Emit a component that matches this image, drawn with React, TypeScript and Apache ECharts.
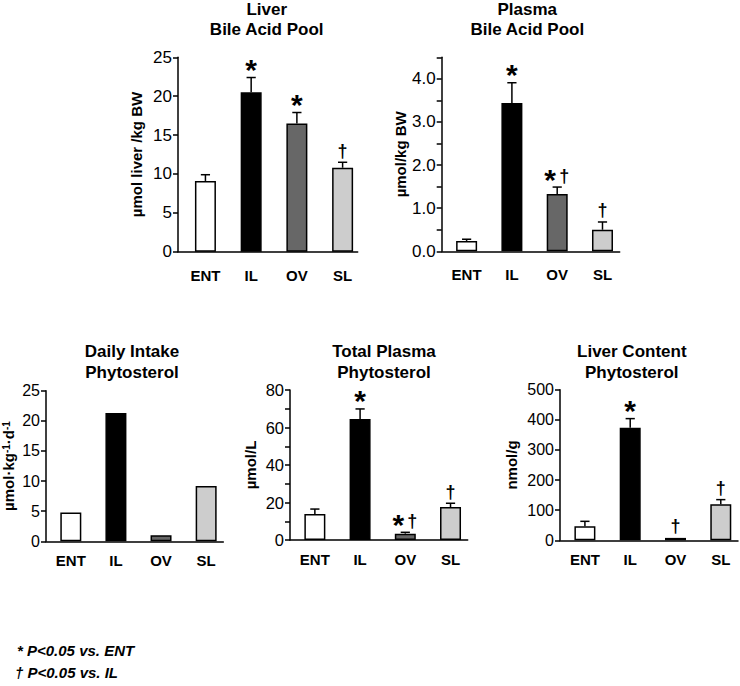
import React, { useEffect, useRef } from 'react';
import * as echarts from 'echarts';

const categories = ['ENT', 'IL', 'OV', 'SL'];
const barColors = ['#ffffff', '#000000', '#676767', '#cdcdcd'];

const liverBileMean = [9.1, 20.5, 16.5, 10.8];
const liverBileErr = [0.8, 1.9, 1.4, 0.7];
const liverBileMarks = ['', '*', '*', '†'];

const plasmaBileMean = [0.24, 3.44, 1.33, 0.5];
const plasmaBileErr = [0.04, 0.47, 0.16, 0.18];
const plasmaBileMarks = ['', '*', '*†', '†'];

const intakeMean = [4.8, 21.3, 1.0, 9.2];
const intakeErr = [0, 0, 0, 0];
const intakeMarks = ['', '', '', ''];

const plasmaPhytoMean = [13.9, 64.5, 3.4, 17.6];
const plasmaPhytoErr = [2.6, 5.4, 0.7, 2.0];
const plasmaPhytoMarks = ['', '*', '*†', '†'];

const liverPhytoMean = [47, 374, 8, 120];
const liverPhytoErr = [16, 30, 0, 15];
const liverPhytoMarks = ['', '*', '†', '†'];

const footnotes = ['* P<0.05 vs. ENT', '† P<0.05 vs. IL'];

const FONT = '"Liberation Sans", Arial, Helvetica, sans-serif';

const panels = [
  {
    titles: ['Liver', 'Bile Acid Pool'], titleX: 266.7, titleY: [9, 29],
    grid: { left: 178, top: 57.3, width: 179.7, height: 194.4 },
    xMin: -0.6, yMax: 25, yInterval: 5, labelStep: 5, decimals: 0, labelSize: 17,
    yName: 'µmol liver /kg BW', nameGap: 34, xLabelMargin: 16,
    mean: liverBileMean, err: liverBileErr, marks: liverBileMarks,
  },
  {
    titles: ['Plasma', 'Bile Acid Pool'], titleX: 527.3, titleY: [9, 29],
    grid: { left: 441.7, top: 57.3, width: 178, height: 194 },
    xMin: -0.55, yMax: 4.5, yInterval: 0.5, labelStep: 1, decimals: 1, labelSize: 17,
    yName: 'µmol/kg BW', nameGap: 29, xLabelMargin: 16,
    mean: plasmaBileMean, err: plasmaBileErr, marks: plasmaBileMarks,
  },
  {
    titles: ['Daily Intake', 'Phytosterol'], titleX: 132, titleY: [351, 372.7],
    grid: { left: 46, top: 390.7, width: 177.3, height: 150.6 },
    xMin: -0.55, yMax: 25, yInterval: 5, labelStep: 5, decimals: 0, labelSize: 16,
    yName: '{a|µmol·kg}{s|-1}{a|·d}{s|-1}', nameGap: 30, xLabelMargin: 12,
    mean: intakeMean, err: intakeErr, marks: intakeMarks,
  },
  {
    titles: ['Total Plasma', 'Phytosterol'], titleX: 384, titleY: [351, 372.7],
    grid: { left: 290, top: 390, width: 177.7, height: 150 },
    xMin: -0.55, yMax: 80, yInterval: 10, labelStep: 20, decimals: 0, labelSize: 16.5,
    yName: 'µmol/L', nameGap: 32, xLabelMargin: 12,
    mean: plasmaPhytoMean, err: plasmaPhytoErr, marks: plasmaPhytoMarks,
  },
  {
    titles: ['Liver Content', 'Phytosterol'], titleX: 631.8, titleY: [351, 372.7],
    grid: { left: 560, top: 389.7, width: 178, height: 150.6 },
    xMin: -0.55, yMax: 500, yInterval: 100, labelStep: 100, decimals: 0, labelSize: 16,
    yName: 'nmol/g', nameGap: 41, xLabelMargin: 12,
    mean: liverPhytoMean, err: liverPhytoErr, marks: liverPhytoMarks,
  },
];

const markStyle: Record<string, { fontSize: number; fontWeight: string; dy: number }> = {
  '*': { fontSize: 30, fontWeight: 'bold', dy: -8 },
  '†': { fontSize: 18, fontWeight: 'bold', dy: -11.5 },
};

function buildOption() {
  const grids: any[] = [];
  const xAxes: any[] = [];
  const yAxes: any[] = [];
  const series: any[] = [];
  const graphics: any[] = [];

  panels.forEach((p, i) => {
    grids.push({ ...p.grid, containLabel: false, outerBoundsMode: 'none' });
    xAxes.push({
      type: 'value', gridIndex: i, min: p.xMin, max: p.xMin + 3.93, interval: 0.05,
      axisLine: { show: true, onZero: false, lineStyle: { color: '#000', width: 1.5 } },
      axisTick: { show: false }, splitLine: { show: false },
      axisLabel: {
        margin: p.xLabelMargin, color: '#000', fontSize: 15, fontWeight: 'bold', fontFamily: FONT,
        formatter: (v: number) => {
          const r = Math.round(v);
          if (Math.abs(v - r) < 1e-6 && r >= 0 && r < categories.length) return categories[r];
          return '';
        },
      },
    });
    yAxes.push({
      type: 'value', gridIndex: i, min: 0, max: p.yMax, interval: p.yInterval,
      axisLine: { show: true, onZero: false, lineStyle: { color: '#000', width: 1.5 } },
      axisTick: { show: true, inside: false, length: 5, lineStyle: { color: '#000', width: 1.5 } },
      splitLine: { show: false },
      axisLabel: {
        margin: 6, color: '#000', fontSize: p.labelSize, fontFamily: FONT,
        formatter: (v: number) => {
          const q = v / p.labelStep;
          if (Math.abs(q - Math.round(q)) < 1e-6) return v.toFixed(p.decimals);
          return '';
        },
      },
      name: p.yName, nameLocation: 'middle', nameRotate: 90, nameGap: p.nameGap,
      nameTextStyle: {
        color: '#000', fontSize: 15, fontWeight: 'bold', fontFamily: FONT,
        rich: {
          a: { fontSize: 15, fontWeight: 'bold', fontFamily: FONT, color: '#000' },
          s: { fontSize: 10, fontWeight: 'bold', fontFamily: FONT, color: '#000', verticalAlign: 'top' },
        },
      },
    });
    series.push({
      type: 'bar', xAxisIndex: i, yAxisIndex: i, barWidth: 21,
      data: p.mean.map((v, j) => ({ value: [j, v], itemStyle: { color: barColors[j] } })),
      itemStyle: { borderColor: '#000', borderWidth: 1.5 },
      silent: true,
    });
    series.push({
      type: 'custom', xAxisIndex: i, yAxisIndex: i, silent: true, z: 5,
      data: p.mean.map((v, j) => [j, v, p.err[j]]),
      renderItem: (params: any, api: any) => {
        const idx = params.dataIndex;
        const x = api.value(0);
        const m = api.value(1);
        const e = api.value(2);
        const p0 = api.coord([x, m]);
        const p1 = api.coord([x, m + e]);
        const children: any[] = [];
        if (e > 0) {
          children.push({ type: 'line', shape: { x1: p0[0], y1: p0[1], x2: p1[0], y2: p1[1] }, style: { stroke: '#000', lineWidth: 1.5 } });
          children.push({ type: 'line', shape: { x1: p1[0] - 4.6, y1: p1[1], x2: p1[0] + 4.6, y2: p1[1] }, style: { stroke: '#000', lineWidth: 1.5 } });
        }
        const chars = (p.marks[idx] || '').split('');
        const n = chars.length;
        chars.forEach((c, k) => {
          const st = markStyle[c];
          if (!st) return;
          children.push({
            type: 'text',
            x: p1[0] + (k - (n - 1) / 2) * 14,
            y: p1[1] + st.dy,
            style: {
              text: c, fill: '#000', fontSize: st.fontSize, fontWeight: st.fontWeight, fontFamily: FONT,
              align: 'center', verticalAlign: 'middle',
            },
          });
        });
        return { type: 'group', children };
      },
    });
    p.titles.forEach((t, k) => {
      graphics.push({
        type: 'text', x: p.titleX, y: p.titleY[k], silent: true,
        style: { text: t, fill: '#000', fontSize: 17, fontWeight: 'bold', fontFamily: FONT, align: 'center', verticalAlign: 'middle' },
      });
    });
  });

  graphics.push({
    type: 'text', x: 17, y: 650, silent: true,
    style: { text: footnotes[0], fill: '#000', fontSize: 15, fontWeight: 'bold', fontStyle: 'italic', fontFamily: FONT, align: 'left', verticalAlign: 'middle' },
  });
  graphics.push({
    type: 'text', x: 15, y: 672.7, silent: true,
    style: { text: footnotes[1], fill: '#000', fontSize: 15, fontWeight: 'bold', fontStyle: 'italic', fontFamily: FONT, align: 'left', verticalAlign: 'middle' },
  });

  return {
    animation: false,
    backgroundColor: '#ffffff',
    textStyle: { fontFamily: FONT },
    grid: grids,
    xAxis: xAxes,
    yAxis: yAxes,
    series,
    graphic: graphics,
  };
}

export default function App() {
  const ref = useRef<HTMLDivElement>(null);
  useEffect(() => {
    if (!ref.current) return;
    const chart = echarts.init(ref.current, null, { renderer: 'svg' });
    chart.setOption(buildOption() as any);
    return () => chart.dispose();
  }, []);
  return (
    <div
      ref={ref}
      style={{ position: 'fixed', left: 0, top: 0, width: 740, height: 686, background: '#fff' }}
    />
  );
}
